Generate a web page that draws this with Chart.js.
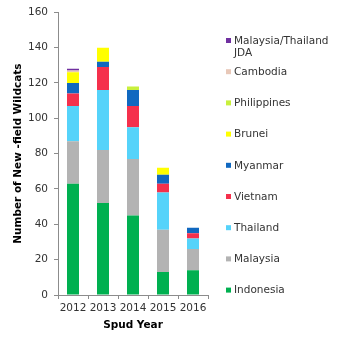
<!DOCTYPE html>
<html>
<head>
<meta charset="utf-8">
<script src="https://cdn.jsdelivr.net/npm/chart.js@4/dist/chart.umd.min.js"></script>
<style>
  html, body { margin: 0; padding: 0; background: #ffffff; }
  #wrap { width: 339px; height: 344px; position: relative; }
</style>
</head>
<body>
<div id="wrap"><canvas id="wildcatChart"></canvas></div>
<script>
// Spud years and wildcat counts per country (bottom of stack first)
const years = ['2012', '2013', '2014', '2015', '2016'];
const yTicks = [0, 20, 40, 60, 80, 100, 120, 140, 160];

const indonesia   = [63, 52, 45, 13, 14];
const malaysia    = [24, 30, 32, 24, 12];
const thailand    = [20, 34, 18, 21, 6];
const vietnam     = [7, 13, 12, 5, 3];
const myanmar     = [6, 3, 9, 5, 3];
const brunei      = [6, 8, 0, 4, 0];
const philippines = [0, 0, 2, 0, 0];
const cambodia    = [1, 0, 0, 0, 0];
const jda         = [1, 0, 0, 0, 0];

const seriesNames = ['Indonesia', 'Malaysia', 'Thailand', 'Vietnam', 'Myanmar',
    'Brunei', 'Philippines', 'Cambodia', 'Malaysia/Thailand JDA'];
const seriesData = [indonesia, malaysia, thailand, vietnam, myanmar,
    brunei, philippines, cambodia, jda];
const seriesColors = ['#00B050', '#B3B3B3', '#55D3FA', '#F5304C', '#1068C0',
    '#FFFF00', '#C8F03C', '#E8C8B8', '#7030A0'];

const FONT = 'DejaVu Sans, Verdana, sans-serif';
const TEXT = '#333333';
const AXIS = '#8c8c8c';

// Right-hand legend, top entry is the last series
const sideLegend = {
    id: 'sideLegend',
    afterDraw(chart) {
        const ctx = chart.ctx;
        const sets = chart.data.datasets.slice().reverse();
        const markX = 226, textX = 234, maxW = 339 - textX - 2;
        const startY = 41, step = 31.2, lineH = 12.5;
        ctx.save();
        ctx.font = '10.5px ' + FONT;
        ctx.textBaseline = 'middle';
        ctx.textAlign = 'left';
        sets.forEach((ds, i) => {
            const y = startY + i * step;
            ctx.fillStyle = ds.backgroundColor;
            ctx.fillRect(markX, y - 3, 5, 5);
            // simple word wrap
            const words = ds.label.split(' ');
            const lines = [];
            let line = '';
            words.forEach(w => {
                const test = line ? line + ' ' + w : w;
                if (line && ctx.measureText(test).width > maxW) {
                    lines.push(line);
                    line = w;
                } else {
                    line = test;
                }
            });
            lines.push(line);
            ctx.fillStyle = TEXT;
            lines.forEach((l, k) => ctx.fillText(l, textX, y + k * lineH));
        });
        ctx.restore();
    }
};

const datasets = seriesNames.map((name, i) => ({
    label: name,
    data: seriesData[i],
    backgroundColor: seriesColors[i],
    borderWidth: 0,
    barPercentage: 0.4,
    categoryPercentage: 1.0
}));

new Chart(document.getElementById('wildcatChart'), {
    type: 'bar',
    data: { labels: years, datasets: datasets },
    options: {
        responsive: true,
        maintainAspectRatio: false,
        animation: false,
        layout: { padding: { top: 11, right: 131, left: 0, bottom: 0 } },
        plugins: {
            legend: { display: false },
            tooltip: { enabled: false }
        },
        scales: {
            x: {
                stacked: true,
                grid: {
                    display: true,
                    offset: true,
                    drawOnChartArea: false,
                    drawTicks: true,
                    tickLength: 4,
                    color: AXIS
                },
                border: { color: AXIS },
                ticks: {
                    color: TEXT,
                    padding: 3,
                    autoSkip: false,
                    maxRotation: 0,
                    minRotation: 0,
                    font: { family: FONT, size: 10.5 }
                },
                title: {
                    display: true,
                    text: 'Spud Year',
                    color: '#000000',
                    padding: 12,
                    font: { family: FONT, size: 10.5, weight: 'bold' }
                },
                afterFit(scale) { scale.height = 49; }
            },
            y: {
                stacked: true,
                min: 0,
                max: 160,
                afterBuildTicks(scale) {
                    scale.ticks = yTicks.map(v => ({ value: v }));
                },
                grid: {
                    display: true,
                    drawOnChartArea: false,
                    drawTicks: true,
                    tickLength: 4,
                    color: AXIS
                },
                border: { color: AXIS },
                ticks: {
                    color: TEXT,
                    padding: 6,
                    font: { family: FONT, size: 10.5 }
                },
                title: {
                    display: true,
                    text: 'Number of New -field Wildcats',
                    color: '#000000',
                    padding: 12,
                    font: { family: FONT, size: 10.5, weight: 'bold' }
                },
                afterFit(scale) { scale.width = 58; }
            }
        }
    },
    plugins: [sideLegend]
});
</script>
</body>
</html>
